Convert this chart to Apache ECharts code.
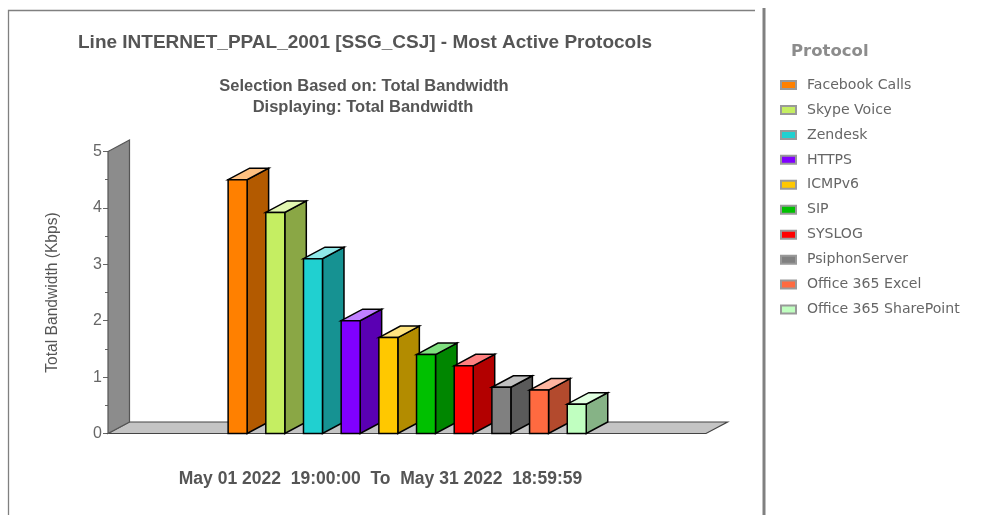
<!DOCTYPE html>
<html><head><meta charset="utf-8">
<style>html,body{margin:0;padding:0;background:#fff}#c{width:982px;height:515px}</style>
<script src="https://cdn.jsdelivr.net/npm/echarts@6/dist/echarts.min.js"></script>
</head><body><div id="c"></div>
<script>
const protocols = ['Facebook Calls','Skype Voice','Zendesk','HTTPS','ICMPv6','SIP','SYSLOG','PsiphonServer','Office 365 Excel','Office 365 SharePoint'];
const bandwidth = [4.5,3.92,3.1,2.0,1.7,1.4,1.2,0.82,0.77,0.52];
const colors = ['#FF8000','#C5EE62','#20D0D0','#8000FF','#FFC800','#00C000','#FF0000','#808080','#FF6A40','#C0FFC0'];
const yMaxValue = 5;
const xRange = [-3.44, 12.43];
const depthX = 21.5, depthY = 11.5, barHalf = 9.5;

function mix(hex, target, t){
  const n = parseInt(hex.slice(1),16);
  const ch = [n>>16&255,n>>8&255,n&255].map(c=>Math.round(c+(target-c)*t));
  return 'rgb('+ch.join(',')+')';
}
function poly(points, fill, stroke, w){
  return {type:'polygon',shape:{points},style:{fill,stroke,lineWidth:w,lineJoin:'miter'}};
}
function renderBar(params, api){
  const c = api.visual('color');
  const top = api.coord([api.value(0), api.value(1)]);
  const base = api.coord([api.value(0), 0]);
  const l = top[0]-barHalf, r = top[0]+barHalf, t = top[1], b = base[1];
  return {type:'group',children:[
    poly([[r,t],[r+depthX,t-depthY],[r+depthX,b-depthY],[r,b]], mix(c,0,0.3), '#000', 1.5),
    poly([[l,t],[l+depthX,t-depthY],[r+depthX,t-depthY],[r,t]], mix(c,255,0.5), '#000', 1.5),
    poly([[l,t],[r,t],[r,b],[l,b]], c, '#000', 1.5)
  ]};
}
function renderRoom(params, api){
  const a = api.coord([xRange[0],0]), e = api.coord([xRange[1],0]), h = api.coord([xRange[0],yMaxValue]);
  return {type:'group',children:[
    poly([[a[0],a[1]],[a[0]+depthX,a[1]-depthY],[e[0]+depthX,e[1]-depthY],[e[0],e[1]]],'#C4C4C4','#444',1.2),
    poly([[a[0],a[1]],[h[0],h[1]],[h[0]+depthX,h[1]-depthY],[a[0]+depthX,a[1]-depthY]],'#8C8C8C','#555',1.2)
  ]};
}
const series = [{type:'custom',name:'room',silent:true,z:1,clip:false,renderItem:renderRoom,data:[[0,0]],encode:{x:0,y:1}}];
protocols.forEach((name,i)=>series.push({
  type:'custom',name,z:2,clip:false,renderItem:renderBar,
  itemStyle:{color:colors[i],borderColor:'#999',borderWidth:1},
  data:[[i,bandwidth[i]]],encode:{x:0,y:1}
}));
const chart = echarts.init(document.getElementById('c'),null,{renderer:'canvas'});
const tf = 'Liberation Sans';
chart.setOption({
  animation:false,backgroundColor:'#fff',
  title:[
    {text:'Line INTERNET_PPAL_2001 [SSG_CSJ] - Most Active Protocols',left:360,textAlign:'center',top:28,textStyle:{fontFamily:tf,fontSize:19,fontWeight:'bold',color:'#555'}},
    {text:'Selection Based on: Total Bandwidth',left:359,textAlign:'center',top:73,textStyle:{fontFamily:tf,fontSize:16.5,fontWeight:'bold',color:'#555'}},
    {text:'Displaying: Total Bandwidth',left:358,textAlign:'center',top:94,textStyle:{fontFamily:tf,fontSize:16.5,fontWeight:'bold',color:'#555'}},
    {text:'May 01 2022  19:00:00  To  May 31 2022  18:59:59',left:375.5,textAlign:'center',top:465,textStyle:{fontFamily:tf,fontSize:17.5,fontWeight:'bold',color:'#555'}},
    {text:'Protocol',left:786,top:38,textStyle:{fontFamily:'DejaVu Sans',fontSize:16.5,fontWeight:'bold',color:'#8c8c8c'}}
  ],
  legend:{orient:'vertical',left:775,top:73,itemWidth:15,itemHeight:8,itemGap:10.95,icon:'rect',
    data:protocols,selectedMode:false,
    textStyle:{fontFamily:'DejaVu Sans',fontSize:14.1,color:'#666',padding:[0,0,0,6]}},
  grid:{left:108,top:151.5,width:598,height:282},
  xAxis:{type:'value',min:xRange[0],max:xRange[1],show:false},
  yAxis:{type:'value',min:0,max:yMaxValue,interval:1,
    name:'Total Bandwidth (Kbps)',nameLocation:'middle',nameRotate:90,nameGap:47,
    nameTextStyle:{fontFamily:tf,fontSize:15.6,color:'#555'},
    axisLine:{show:true,onZero:false,lineStyle:{color:'#666'}},
    axisTick:{show:true,length:5,lineStyle:{color:'#666'}},
    minorTick:{show:true,splitNumber:2,length:3,lineStyle:{color:'#666'}},
    splitLine:{show:false},
    axisLabel:{fontFamily:tf,fontSize:16,color:'#666',margin:6}},
  graphic:[
    {type:'polyline',silent:true,shape:{points:[[8.5,515],[8.5,10.5],[755,10.5]]},style:{stroke:'#808080',lineWidth:1.3,fill:null}},
    {type:'rect',silent:true,shape:{x:762.5,y:8,width:3,height:507},style:{fill:'#808080'}}
  ],
  series
});
</script></body></html>
